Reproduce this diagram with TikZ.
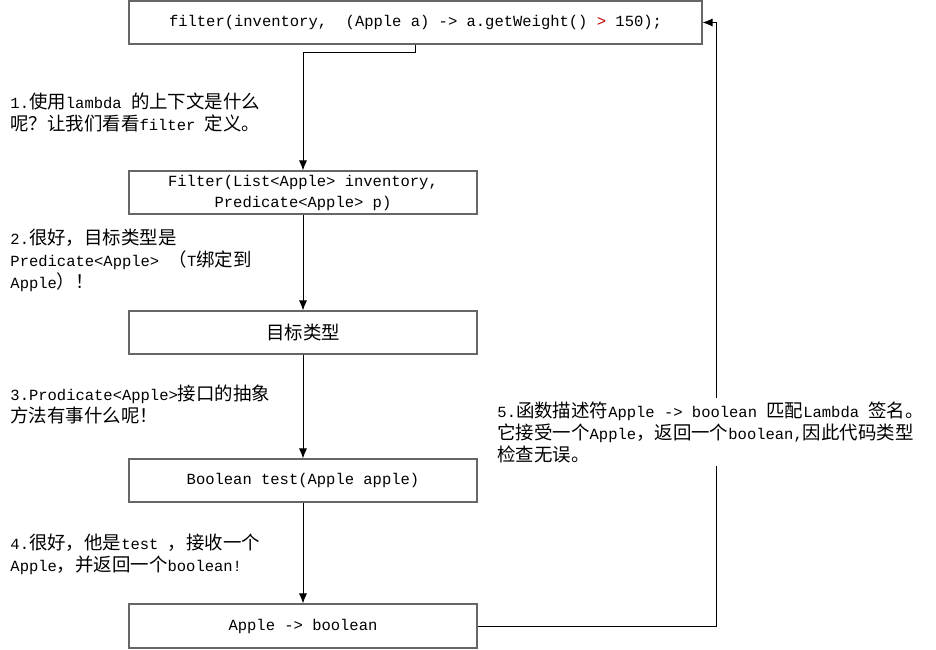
\documentclass[tikz,border=0pt]{standalone}
\usepackage{fontspec}
\setmainfont{Liberation Mono}
\newfontfamily\cjk[Scale=1.19]{Noto Sans CJK SC}
\newcommand\zh[1]{{\cjk #1}}
\usetikzlibrary{arrows.meta}
\tikzset{
  box/.style={draw=black!60, line width=1.1pt, minimum width=348pt,
    minimum height=43pt, inner sep=0pt, align=center},
  note/.style={anchor=north west, inner sep=0pt, align=left}
}
\begin{document}
\begin{tikzpicture}[x=1pt, y=-1pt, line width=0.9pt,
    every node/.style={font=\fontsize{15.5}{22}\selectfont},
    >={Latex[length=10pt,width=8pt]}]
  \useasboundingbox (0,0) rectangle (936,649);
  % boxes
  \node[box, minimum width=573pt] (call) at (415.5,22.5)
    {filter(inventory,\ \ (Apple a) -> a.getWeight() {\color{red!75!black}>} 150);};
  \node[box] (filt) at (303,192.5)
    {Filter(List<Apple> inventory,\\[-1pt]Predicate<Apple> p)};
  \node[box] (target) at (303,332.5) {\zh{目标类型}};
  \node[box] (test) at (303,480.5) {Boolean test(Apple apple)};
  \node[box, minimum height=44pt] (desc) at (303,626) {Apple -> boolean};
  % connectors
  \draw[->] (call.south) -- ++(0,8) -| (filt.north);
  \draw[->] (filt.south) -- (target.north);
  \draw[->] (target.south) -- (test.north);
  \draw[->] (test.south) -- (desc.north);
  \draw[->] (desc.east) -- ++(239,0) |- (call.east);
  % notes
  \node[note] (n1) at (10,92)
    {1.\zh{使用}lambda \zh{的上下文是什么}\\\zh{呢？让我们看看}filter \zh{定义。}};
  \node[note] (n2) at (10,229)
    {2.\zh{很好，目标类型是}\\Predicate<Apple> \zh{（}T\zh{绑定到}\\Apple\zh{）！}};
  \node[note] (n3) at (10,384)
    {3.Prodicate<Apple>\zh{接口的抽象}\\\zh{方法有事什么呢！}};
  \node[note] (n4) at (10,534)
    {4.\zh{很好，他是}test \zh{，接收一个}\\Apple\zh{，并返回一个}boolean!};
  \node[note, fill=white, inner sep=3pt] (n5) at (494,398)
    {5.\zh{函数描述符}Apple -> boolean \zh{匹配}Lambda \zh{签名。}\\
     \zh{它接受一个}Apple\zh{，返回一个}boolean,\zh{因此代码类型}\\
     \zh{检查无误。}};
\end{tikzpicture}
\end{document}
